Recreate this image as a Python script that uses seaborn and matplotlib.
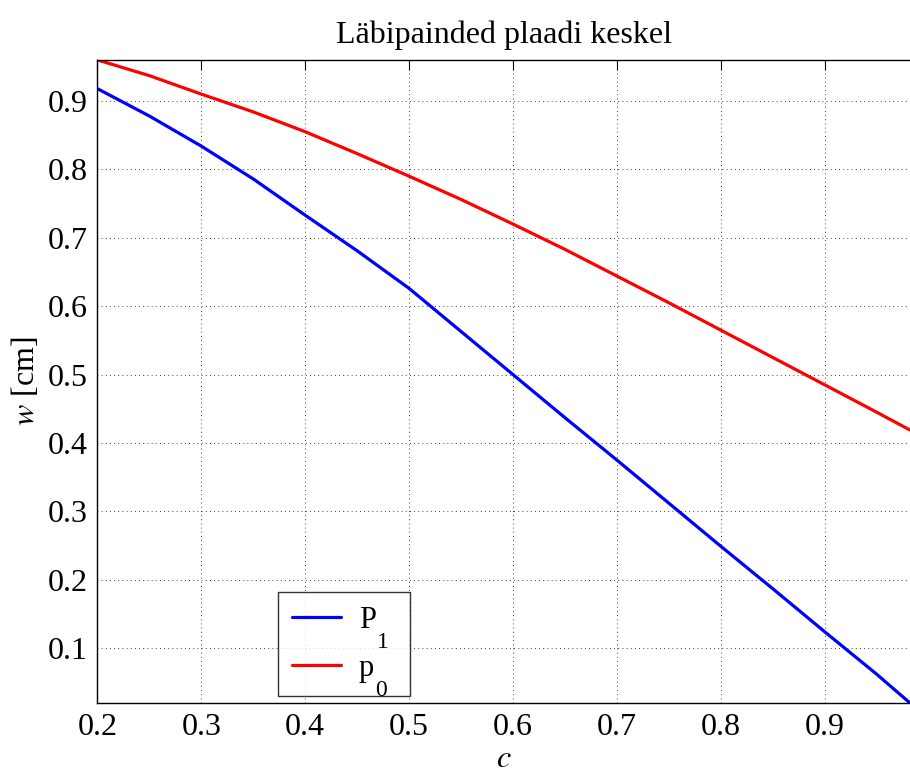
import numpy as np
import pandas as pd
import seaborn as sns
import matplotlib.pyplot as plt
from matplotlib.lines import Line2D

c = [0.2, 0.25, 0.3, 0.35, 0.4, 0.45, 0.5, 0.55, 0.6, 0.65, 0.7, 0.75, 0.8, 0.85, 0.9, 0.95, 0.982]
w_P1 = [0.918, 0.878, 0.834, 0.786, 0.733, 0.681, 0.626, 0.563, 0.500, 0.437, 0.375, 0.312, 0.249, 0.187, 0.124, 0.062, 0.020]
w_p0 = [0.960, 0.937, 0.910, 0.884, 0.855, 0.823, 0.790, 0.756, 0.720, 0.683, 0.644, 0.605, 0.565, 0.525, 0.485, 0.445, 0.419]
names = ["P", "p"]
subs = ["1", "0"]
colors = ["#0000ff", "#ff0000"]

df = pd.DataFrame({"c": c * 2,
                   "w": w_P1 + w_p0,
                   "koormus": ["P1"] * len(c) + ["p0"] * len(c)})

sns.set_style("white")
plt.rcParams['font.family'] = ['Liberation Serif', 'DejaVu Serif']
plt.rcParams['mathtext.fontset'] = 'stix'
plt.rcParams['text.color'] = 'black'
plt.rcParams['axes.labelcolor'] = 'black'
plt.rcParams['xtick.color'] = 'black'
plt.rcParams['ytick.color'] = 'black'

fig = plt.figure(figsize=(9.1, 7.78), dpi=100)
ax = fig.add_axes([0.107, 0.0964, 0.893, 0.8266])

sns.lineplot(data=df, x="c", y="w", hue="koormus", palette=colors,
             linewidth=2.3, ax=ax, legend=False)

xt = np.arange(0.2, 0.95, 0.1)
yt = np.arange(0.1, 0.95, 0.1)
ax.set_xlim(0.2, 0.982)
ax.set_ylim(0.02, 0.96)
ax.set_xticks(xt)
ax.set_yticks(yt)
ax.set_xticklabels([f"{v:.1f}" for v in xt])
ax.set_yticklabels([f"{v:.1f}" for v in yt])
ax.tick_params(direction="in", length=7, width=0.8, labelsize=23, top=True, right=False,
               pad=7, color="black", labelcolor="black")
ax.grid(True, linestyle=(0, (1, 4)), color="black", linewidth=0.6)
for s in ["left", "bottom", "top"]:
    ax.spines[s].set_color("black")
    ax.spines[s].set_linewidth(1.0)
ax.spines["right"].set_visible(False)

ax.set_title("Läbipainded plaadi keskel", fontsize=23, pad=12)
ax.set_xlabel("$c$", fontsize=23, labelpad=2)
ax.set_ylabel("$w$ [cm]", fontsize=23, labelpad=5)

handles = [Line2D([], [], color=col, lw=2.3) for col in colors]
leg = ax.legend(handles, names, loc="upper left",
                bbox_to_anchor=(278 / 910, 1 - 592 / 778, 132 / 910, 0),
                bbox_transform=fig.transFigure, mode="expand", borderaxespad=0,
                fontsize=22, frameon=True, fancybox=False, handlelength=1.6,
                borderpad=0.45, labelspacing=0.62, handletextpad=0.6)
leg.get_frame().set_edgecolor("black")
leg.get_frame().set_linewidth(1.0)

# subscripts in the legend, placed below the baseline like the original
fig.canvas.draw()
inv = fig.transFigure.inverted()
for t, s in zip(leg.get_texts(), subs):
    bb = t.get_window_extent()
    x0, y0 = inv.transform((bb.x1 + 1, bb.y0 + 3))
    fig.text(x0, y0, s, fontsize=17, va="top", ha="left")

fig.savefig("out.png", dpi=100)
